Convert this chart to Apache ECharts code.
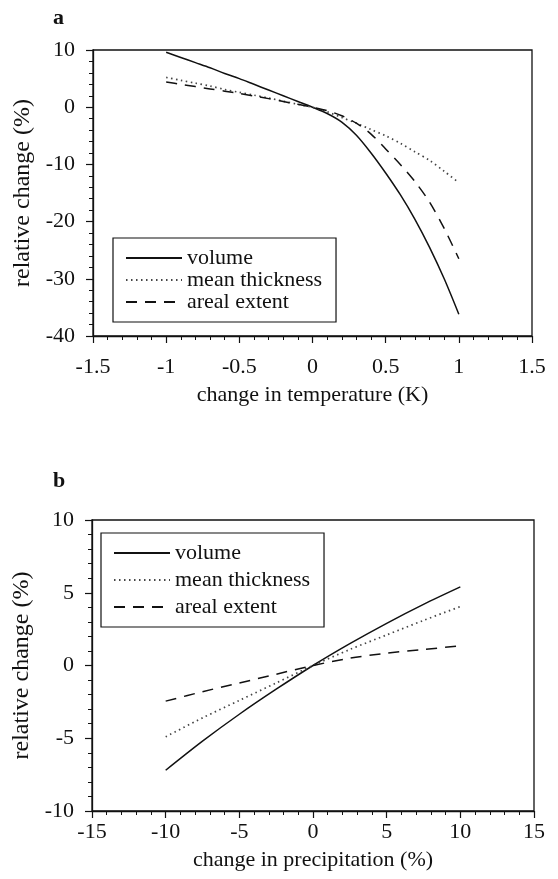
<!DOCTYPE html>
<html>
<head>
<meta charset="utf-8">
<script src="https://cdn.jsdelivr.net/npm/echarts@6/dist/echarts.min.js"></script>
<style>
html,body{margin:0;padding:0;background:#fff;}
#chart{width:558px;height:879px;}
</style>
</head>
<body>
<div id="chart"></div>
<script>
// ---------- Panel a: change in temperature ----------
var tempX = [-1.0,-0.9,-0.8,-0.7,-0.6,-0.5,-0.4,-0.3,-0.2,-0.1,0.0,0.1,0.2,0.3,0.4,0.5,0.6,0.7,0.8,0.9,1.0];
var tempVolume = [9.6,8.7,7.8,6.9,5.9,5.0,4.0,3.0,2.0,1.0,0.0,-1.1,-2.6,-4.9,-8.0,-11.5,-15.3,-19.6,-24.5,-30.0,-36.2];
var tempThickness = [5.2,4.7,4.2,3.7,3.1,2.6,2.1,1.6,1.05,0.5,0.0,-0.8,-1.8,-2.8,-3.9,-5.0,-6.3,-7.8,-9.3,-11.2,-13.2];
var tempExtent = [4.4,4.0,3.6,3.2,2.8,2.4,1.95,1.5,1.0,0.5,0.0,-0.6,-1.5,-2.8,-4.7,-7.3,-10.0,-13.0,-16.6,-21.2,-26.5];
var tempXTicks = [-1.5,-1,-0.5,0,0.5,1,1.5];
var tempYTicks = [-40,-30,-20,-10,0,10];

// ---------- Panel b: change in precipitation ----------
var precX = [-10,-7.5,-5,-2.5,0,2.5,5,7.5,10];
var precVolume = [-7.2,-5.2,-3.35,-1.63,0.0,1.5,2.9,4.2,5.4];
var precThickness = [-4.9,-3.6,-2.4,-1.2,0.0,1.1,2.1,3.1,4.05];
var precExtent = [-2.45,-1.8,-1.2,-0.6,0.0,0.5,0.85,1.1,1.35];
var precXTicks = [-15,-10,-5,0,5,10,15];
var precYTicks = [-10,-5,0,5,10];

var seriesNames = ['volume','mean thickness','areal extent'];
var panelLabels = ['a','b'];
var xTitles = ['change in temperature (K)','change in precipitation (%)'];
var yTitle = 'relative change (%)';

var FONT = '"Liberation Serif", "Times New Roman", serif';
var FS = 22;

function pairs(xs, ys){ return xs.map(function(x,i){ return [x, ys[i]]; }); }

var styles = [
  {type:'solid', width:1.5, color:'#111'},
  {type:[1.5,3.5], width:1.7, color:'#444'},
  {type:[11,8], width:1.5, color:'#111'}
];

function mkX(idx, ticks, title, margin, gap){
  return {
    type:'value', gridIndex: idx,
    min: ticks[0], max: ticks[ticks.length-1], interval: ticks[1]-ticks[0],
    name: title, nameLocation:'middle', nameGap: gap,
    nameTextStyle:{fontFamily:FONT, fontSize:FS, color:'#111'},
    axisLine:{show:true, onZero:false, lineStyle:{color:'#111', width:1.3}},
    axisTick:{show:true, inside:false, length:7, lineStyle:{color:'#111', width:1.2}},
    minorTick:{show:true, splitNumber:5, length:4, lineStyle:{color:'#111', width:1}},
    splitLine:{show:false},
    axisLabel:{fontFamily:FONT, fontSize:FS, color:'#111', margin:margin}
  };
}
function mkY(idx, ticks){
  return {
    type:'value', gridIndex: idx,
    min: ticks[0], max: ticks[ticks.length-1], interval: ticks[1]-ticks[0],
    name: yTitle, nameLocation:'middle', nameGap: 48, nameRotate: 90,
    nameTextStyle:{fontFamily:FONT, fontSize:24, color:'#111'},
    axisLine:{show:true, onZero:false, lineStyle:{color:'#111', width:1.3}},
    axisTick:{show:true, inside:false, length:7, lineStyle:{color:'#111', width:1.2}},
    minorTick:{show:true, splitNumber:5, length:4, lineStyle:{color:'#111', width:1}},
    splitLine:{show:false},
    axisLabel:{fontFamily:FONT, fontSize:FS, color:'#111', margin:18}
  };
}
function mkSeries(name, idx, xs, ys, st){
  return {
    name: name, type:'line', xAxisIndex: idx, yAxisIndex: idx,
    data: pairs(xs, ys), symbol:'none', smooth: 0.3,
    lineStyle:{type: st.type, width: st.width, color: st.color},
    itemStyle:{color: st.color},
    animation:false
  };
}
function mkLegend(left, top, gap, pad){
  return {
    orient:'vertical', left:left, top:top, itemGap:gap, padding:pad,
    itemWidth:56, itemHeight:14,
    borderColor:'#111', borderWidth:1.2, backgroundColor:'#fff',
    selectedMode:false,
    itemStyle:{opacity:0, borderWidth:0},
    data: seriesNames,
    textStyle:{fontFamily:FONT, fontSize:FS, color:'#111'}
  };
}

var option = {
  backgroundColor:'#fff',
  animation:false,
  title:[
    {text: panelLabels[0], left:53, top:7, padding:0, textStyle:{fontFamily:FONT, fontSize:FS, fontWeight:'bold', color:'#111'}},
    {text: panelLabels[1], left:53, top:470, padding:0, textStyle:{fontFamily:FONT, fontSize:FS, fontWeight:'bold', color:'#111'}}
  ],
  grid:[
    {left:93, top:50, width:439, height:286, show:true, borderColor:'#111', borderWidth:1.3, backgroundColor:'transparent'},
    {left:92, top:520, width:442, height:291, show:true, borderColor:'#111', borderWidth:1.3, backgroundColor:'transparent'}
  ],
  xAxis:[ mkX(0, tempXTicks, xTitles[0], 20, 48), mkX(1, precXTicks, xTitles[1], 10, 38) ],
  yAxis:[ mkY(0, tempYTicks), mkY(1, precYTicks) ],
  legend:[
    mkLegend(113, 238, 0, [9, 14, 9, 12]),
    mkLegend(101, 533, 5, [9, 14, 9, 12])
  ],
  series:[
    mkSeries(seriesNames[0], 0, tempX, tempVolume, styles[0]),
    mkSeries(seriesNames[1], 0, tempX, tempThickness, styles[1]),
    mkSeries(seriesNames[2], 0, tempX, tempExtent, styles[2]),
    mkSeries(seriesNames[0], 1, precX, precVolume, styles[0]),
    mkSeries(seriesNames[1], 1, precX, precThickness, styles[1]),
    mkSeries(seriesNames[2], 1, precX, precExtent, styles[2])
  ]
};
var chart = echarts.init(document.getElementById('chart'), null, {renderer:'canvas'});
chart.setOption(option);
</script>
</body>
</html>
